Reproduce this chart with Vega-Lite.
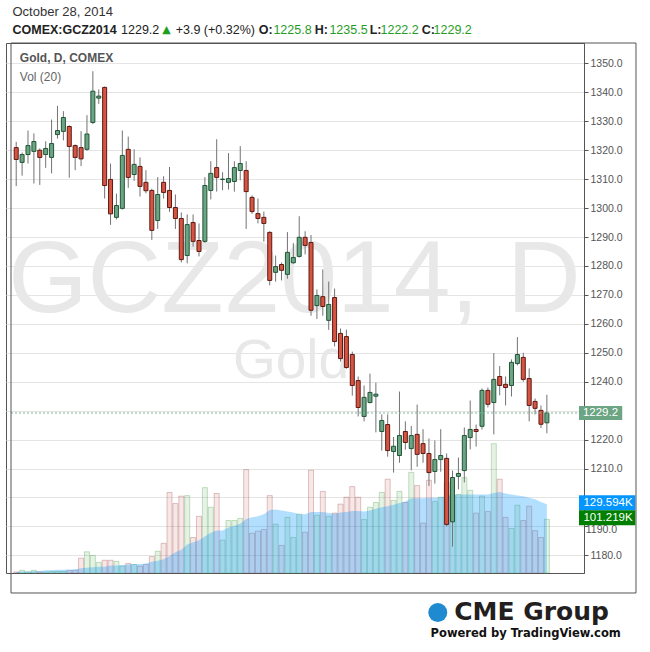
{
"$schema": "https://vega.github.io/schema/vega-lite/v6.json",
"width": 578, "height": 530,
"autosize": {"type": "none"},
"padding": {"left": 6, "top": 43, "right": 66, "bottom": 79},
"background": "white",
"config": {"view": {"stroke": "#555", "strokeWidth": 1}, "font": "Liberation Sans"},
"datasets": {
"ohlc": [
{"i":0,"d":"2014-06-20","o":1320.9,"h":1322.9,"l":1307.6,"c":1316.8,"v":2,"ma":2},
{"i":1,"d":"2014-06-23","o":1315.8,"h":1319.2,"l":1311.2,"c":1318.5,"v":5,"ma":3},
{"i":2,"d":"2014-06-24","o":1318.5,"h":1326.8,"l":1315.4,"c":1321.6,"v":2,"ma":3},
{"i":3,"d":"2014-06-25","o":1319.6,"h":1325.8,"l":1308.5,"c":1323.0,"v":5,"ma":4},
{"i":4,"d":"2014-06-26","o":1320.0,"h":1320.6,"l":1308.0,"c":1317.5,"v":2,"ma":4},
{"i":5,"d":"2014-06-27","o":1318.5,"h":1323.1,"l":1313.9,"c":1320.6,"v":2,"ma":5},
{"i":6,"d":"2014-06-30","o":1317.5,"h":1330.6,"l":1312.0,"c":1322.3,"v":3,"ma":5},
{"i":7,"d":"2014-07-01","o":1325.4,"h":1335.3,"l":1324.0,"c":1326.8,"v":3,"ma":6},
{"i":8,"d":"2014-07-02","o":1326.5,"h":1333.5,"l":1323.4,"c":1331.3,"v":3,"ma":6},
{"i":9,"d":"2014-07-03","o":1328.2,"h":1328.6,"l":1310.5,"c":1321.3,"v":5,"ma":6},
{"i":10,"d":"2014-07-07","o":1321.6,"h":1322.0,"l":1313.1,"c":1317.5,"v":5,"ma":7},
{"i":11,"d":"2014-07-08","o":1320.9,"h":1326.6,"l":1314.5,"c":1317.0,"v":28,"ma":9},
{"i":12,"d":"2014-07-09","o":1320.3,"h":1332.1,"l":1319.8,"c":1325.6,"v":40,"ma":10},
{"i":13,"d":"2014-07-10","o":1329.6,"h":1347.3,"l":1329.0,"c":1340.4,"v":33,"ma":11},
{"i":14,"d":"2014-07-11","o":1338.0,"h":1341.0,"l":1336.0,"c":1338.7,"v":20,"ma":12},
{"i":15,"d":"2014-07-14","o":1341.7,"h":1342.0,"l":1303.3,"c":1307.8,"v":24,"ma":12},
{"i":16,"d":"2014-07-15","o":1309.9,"h":1315.4,"l":1294.2,"c":1298.0,"v":24,"ma":14},
{"i":17,"d":"2014-07-16","o":1296.8,"h":1305.0,"l":1296.1,"c":1300.9,"v":22,"ma":14},
{"i":18,"d":"2014-07-17","o":1299.9,"h":1326.8,"l":1299.5,"c":1318.2,"v":13,"ma":15},
{"i":19,"d":"2014-07-18","o":1320.3,"h":1324.7,"l":1307.0,"c":1310.6,"v":18,"ma":16},
{"i":20,"d":"2014-07-21","o":1311.6,"h":1320.3,"l":1309.4,"c":1315.1,"v":16,"ma":17},
{"i":21,"d":"2014-07-22","o":1314.4,"h":1317.5,"l":1304.0,"c":1307.5,"v":13,"ma":17},
{"i":22,"d":"2014-07-23","o":1308.9,"h":1313.1,"l":1305.1,"c":1306.0,"v":16,"ma":18},
{"i":23,"d":"2014-07-24","o":1306.1,"h":1306.7,"l":1289.0,"c":1292.3,"v":31,"ma":21},
{"i":24,"d":"2014-07-25","o":1295.7,"h":1310.7,"l":1292.8,"c":1304.7,"v":41,"ma":23},
{"i":25,"d":"2014-07-28","o":1308.9,"h":1311.0,"l":1303.3,"c":1305.4,"v":56,"ma":26},
{"i":26,"d":"2014-07-29","o":1306.1,"h":1314.2,"l":1298.7,"c":1300.2,"v":152,"ma":32},
{"i":27,"d":"2014-07-30","o":1300.2,"h":1304.7,"l":1292.8,"c":1296.4,"v":131,"ma":39},
{"i":28,"d":"2014-07-31","o":1296.4,"h":1298.5,"l":1281.2,"c":1282.2,"v":145,"ma":44},
{"i":29,"d":"2014-08-01","o":1283.6,"h":1297.8,"l":1280.9,"c":1294.3,"v":146,"ma":54},
{"i":30,"d":"2014-08-04","o":1295.0,"h":1297.8,"l":1286.7,"c":1288.5,"v":67,"ma":58},
{"i":31,"d":"2014-08-05","o":1288.8,"h":1294.7,"l":1283.3,"c":1285.0,"v":107,"ma":62},
{"i":32,"d":"2014-08-06","o":1288.5,"h":1310.7,"l":1288.0,"c":1307.8,"v":161,"ma":69},
{"i":33,"d":"2014-08-07","o":1306.1,"h":1316.2,"l":1303.0,"c":1312.0,"v":124,"ma":76},
{"i":34,"d":"2014-08-08","o":1314.0,"h":1323.8,"l":1305.7,"c":1310.6,"v":150,"ma":80},
{"i":35,"d":"2014-08-11","o":1309.9,"h":1312.4,"l":1306.2,"c":1310.0,"v":62,"ma":80},
{"i":36,"d":"2014-08-12","o":1308.9,"h":1319.0,"l":1306.4,"c":1310.2,"v":99,"ma":86},
{"i":37,"d":"2014-08-13","o":1309.2,"h":1316.2,"l":1305.7,"c":1314.0,"v":99,"ma":89},
{"i":38,"d":"2014-08-14","o":1313.0,"h":1321.4,"l":1309.6,"c":1315.4,"v":103,"ma":93},
{"i":39,"d":"2014-08-15","o":1313.0,"h":1316.2,"l":1292.8,"c":1305.7,"v":195,"ma":102},
{"i":40,"d":"2014-08-18","o":1303.7,"h":1304.4,"l":1298.0,"c":1298.8,"v":75,"ma":105},
{"i":41,"d":"2014-08-19","o":1298.1,"h":1303.3,"l":1294.7,"c":1296.4,"v":79,"ma":107},
{"i":42,"d":"2014-08-20","o":1296.8,"h":1298.8,"l":1288.4,"c":1294.7,"v":82,"ma":111},
{"i":43,"d":"2014-08-21","o":1291.6,"h":1292.0,"l":1273.3,"c":1275.0,"v":146,"ma":119},
{"i":44,"d":"2014-08-22","o":1277.8,"h":1283.6,"l":1274.6,"c":1279.8,"v":92,"ma":120},
{"i":45,"d":"2014-08-25","o":1280.5,"h":1281.2,"l":1275.0,"c":1278.5,"v":52,"ma":118},
{"i":46,"d":"2014-08-26","o":1277.1,"h":1291.7,"l":1275.6,"c":1284.7,"v":105,"ma":116},
{"i":47,"d":"2014-08-27","o":1281.1,"h":1287.9,"l":1280.8,"c":1282.9,"v":67,"ma":114},
{"i":48,"d":"2014-08-28","o":1283.3,"h":1297.2,"l":1282.9,"c":1289.9,"v":111,"ma":111},
{"i":49,"d":"2014-08-29","o":1289.9,"h":1292.0,"l":1284.0,"c":1287.1,"v":77,"ma":111},
{"i":50,"d":"2014-09-02","o":1288.1,"h":1290.7,"l":1262.8,"c":1264.7,"v":194,"ma":115},
{"i":51,"d":"2014-09-03","o":1266.3,"h":1271.9,"l":1261.7,"c":1269.8,"v":109,"ma":115},
{"i":52,"d":"2014-09-04","o":1269.4,"h":1278.8,"l":1262.8,"c":1266.0,"v":154,"ma":115},
{"i":53,"d":"2014-09-05","o":1261.2,"h":1274.6,"l":1257.9,"c":1266.7,"v":107,"ma":113},
{"i":54,"d":"2014-09-08","o":1269.1,"h":1272.2,"l":1252.2,"c":1253.9,"v":113,"ma":112},
{"i":55,"d":"2014-09-09","o":1256.7,"h":1258.4,"l":1247.0,"c":1248.0,"v":130,"ma":114},
{"i":56,"d":"2014-09-10","o":1255.6,"h":1258.0,"l":1244.5,"c":1244.9,"v":143,"ma":115},
{"i":57,"d":"2014-09-11","o":1249.4,"h":1250.4,"l":1235.2,"c":1238.7,"v":163,"ma":117},
{"i":58,"d":"2014-09-12","o":1240.4,"h":1241.8,"l":1228.0,"c":1231.1,"v":143,"ma":117},
{"i":59,"d":"2014-09-15","o":1228.0,"h":1238.7,"l":1226.3,"c":1234.6,"v":101,"ma":116},
{"i":60,"d":"2014-09-16","o":1232.8,"h":1242.8,"l":1232.5,"c":1236.3,"v":124,"ma":118},
{"i":61,"d":"2014-09-17","o":1235.0,"h":1239.7,"l":1222.5,"c":1235.7,"v":133,"ma":121},
{"i":62,"d":"2014-09-18","o":1222.8,"h":1228.7,"l":1216.2,"c":1226.6,"v":152,"ma":124},
{"i":63,"d":"2014-09-19","o":1225.2,"h":1228.7,"l":1214.1,"c":1216.2,"v":177,"ma":126},
{"i":64,"d":"2014-09-22","o":1215.9,"h":1220.9,"l":1208.6,"c":1217.7,"v":137,"ma":129},
{"i":65,"d":"2014-09-23","o":1214.5,"h":1236.6,"l":1212.0,"c":1221.4,"v":154,"ma":132},
{"i":66,"d":"2014-09-24","o":1222.8,"h":1226.3,"l":1216.5,"c":1219.0,"v":133,"ma":135},
{"i":67,"d":"2014-09-25","o":1216.9,"h":1224.7,"l":1209.4,"c":1221.4,"v":190,"ma":141},
{"i":68,"d":"2014-09-26","o":1221.8,"h":1232.1,"l":1210.6,"c":1214.9,"v":165,"ma":141},
{"i":69,"d":"2014-09-29","o":1218.6,"h":1223.6,"l":1212.0,"c":1215.2,"v":94,"ma":141},
{"i":70,"d":"2014-09-30","o":1215.2,"h":1220.4,"l":1204.0,"c":1208.6,"v":175,"ma":142},
{"i":71,"d":"2014-10-01","o":1209.0,"h":1219.7,"l":1204.8,"c":1213.1,"v":135,"ma":142},
{"i":72,"d":"2014-10-02","o":1213.1,"h":1223.6,"l":1208.9,"c":1214.5,"v":143,"ma":143},
{"i":73,"d":"2014-10-03","o":1213.5,"h":1215.2,"l":1190.0,"c":1190.7,"v":171,"ma":145},
{"i":74,"d":"2014-10-06","o":1191.6,"h":1209.3,"l":1183.0,"c":1206.9,"v":148,"ma":146},
{"i":75,"d":"2014-10-07","o":1207.3,"h":1213.8,"l":1202.8,"c":1208.3,"v":148,"ma":148},
{"i":76,"d":"2014-10-08","o":1209.3,"h":1224.2,"l":1205.2,"c":1221.4,"v":180,"ma":148},
{"i":77,"d":"2014-10-09","o":1220.7,"h":1233.5,"l":1216.6,"c":1223.5,"v":156,"ma":148},
{"i":78,"d":"2014-10-10","o":1223.5,"h":1225.2,"l":1217.6,"c":1222.8,"v":113,"ma":148},
{"i":79,"d":"2014-10-13","o":1224.6,"h":1237.7,"l":1223.5,"c":1237.0,"v":145,"ma":148},
{"i":80,"d":"2014-10-14","o":1237.0,"h":1238.0,"l":1231.1,"c":1232.2,"v":116,"ma":148},
{"i":81,"d":"2014-10-15","o":1232.8,"h":1249.9,"l":1221.8,"c":1240.8,"v":244,"ma":151},
{"i":82,"d":"2014-10-16","o":1241.8,"h":1245.4,"l":1235.3,"c":1238.7,"v":177,"ma":153},
{"i":83,"d":"2014-10-17","o":1239.1,"h":1241.8,"l":1231.8,"c":1238.0,"v":105,"ma":150},
{"i":84,"d":"2014-10-20","o":1238.7,"h":1247.7,"l":1234.9,"c":1246.7,"v":84,"ma":148},
{"i":85,"d":"2014-10-21","o":1246.3,"h":1255.4,"l":1245.6,"c":1249.4,"v":128,"ma":146},
{"i":86,"d":"2014-10-22","o":1248.4,"h":1250.0,"l":1240.0,"c":1240.8,"v":99,"ma":145},
{"i":87,"d":"2014-10-23","o":1241.1,"h":1244.6,"l":1226.3,"c":1231.8,"v":126,"ma":142},
{"i":88,"d":"2014-10-24","o":1233.2,"h":1234.2,"l":1228.7,"c":1230.8,"v":80,"ma":139},
{"i":89,"d":"2014-10-27","o":1230.1,"h":1231.8,"l":1224.0,"c":1225.3,"v":67,"ma":134},
{"i":90,"d":"2014-10-28","o":1225.8,"h":1235.5,"l":1222.2,"c":1229.2,"v":101.219,"ma":129.594}
],
"last": [{"price": 1229.2, "label": "1229.2"}],
"vlast": [{"vol": 129.594, "label": "129.594K", "kind": "ma"}, {"vol": 101.219, "label": "101.219K", "kind": "vol"}],
"one": [{"t": "a"}]
},
"layer": [
 {
  "data": {"name": "one"},
  "layer": [
   {"mark": {"type": "text", "text": "GCZ2014, D", "font": "Liberation Sans", "fontSize": 102, "color": "#e8e8e8", "align": "center", "baseline": "alphabetic"},
    "encoding": {"x": {"datum": 47.2, "type": "quantitative", "scale": {"domain": [-0.883, 95.45], "nice": false, "zero": false}, "axis": null}, "y": {"datum": 1264.1, "type": "quantitative"}}},
   {"mark": {"type": "text", "text": "Gold", "font": "Liberation Sans", "fontSize": 55, "color": "#e8e8e8", "align": "center", "baseline": "alphabetic"},
    "encoding": {"x": {"datum": 46.6, "type": "quantitative", "axis": null}, "y": {"datum": 1241.3, "type": "quantitative"}}}
  ],
  "encoding": {"y": {"type": "quantitative", "scale": {"domain": [1173.9, 1357.05], "nice": false, "zero": false}, "axis": null}}
 },
 {
  "data": {"name": "ohlc"},
  "layer": [
   {"mark": {"type": "bar", "size": 5, "strokeWidth": 1, "fillOpacity": 0.13, "strokeOpacity": 0.3, "orient": "vertical"},
    "encoding": {"x": {"field": "i", "type": "quantitative", "axis": null},
     "y": {"field": "v", "type": "quantitative", "scale": {"domain": [0, 1000], "nice": false}, "axis": null},
     "fill": {"condition": {"test": "datum.c >= datum.o", "value": "#3d9a3d"}, "value": "#c0504a"},
     "stroke": {"condition": {"test": "datum.c >= datum.o", "value": "#3d9a3d"}, "value": "#a04040"}}},
   {"mark": {"type": "area", "color": "#0496ff", "opacity": 0.3},
    "encoding": {"x": {"field": "i", "type": "quantitative", "axis": null},
     "y": {"field": "ma", "type": "quantitative", "scale": {"domain": [0, 1000], "nice": false}, "axis": null}}},
   {"data": {"name": "vlast"},
    "mark": {"type": "rect", "clip": false, "yOffset": -9, "y2Offset": 6},
    "encoding": {"x": {"datum": 95.45, "type": "quantitative", "axis": null}, "x2": {"datum": 105.0},
     "y": {"field": "vol", "type": "quantitative"}, "y2": {"field": "vol"},
     "color": {"condition": {"test": "datum.kind == 'ma'", "value": "#0496ff"}, "value": "#007f00"}}},
   {"data": {"name": "vlast"},
    "mark": {"type": "text", "clip": false, "align": "left", "baseline": "middle", "dy": -1.5, "fontSize": 11.5, "color": "white", "font": "Liberation Sans"},
    "encoding": {"x": {"datum": 96.2, "type": "quantitative", "axis": null}, "y": {"field": "vol", "type": "quantitative"}, "text": {"field": "label"}}}
  ]
 },
 {
  "data": {"name": "ohlc"},
  "encoding": {"y": {"type": "quantitative", "scale": {"domain": [1173.9, 1357.05], "nice": false, "zero": false},
   "axis": {"orient": "right", "values": [1180,1190,1200,1210,1220,1230,1240,1250,1260,1270,1280,1290,1300,1310,1320,1330,1340,1350], "labelExpr": "datum.value == 1230 || datum.value == 1200 || datum.value == 1190 ? '' : format(datum.value, '.1f')", "title": null, "grid": true, "gridColor": "#e4e4e4", "domainColor": "#555", "tickColor": "#555", "tickSize": 4, "labelFont": "Liberation Sans", "labelFontSize": 10.5, "labelColor": "#555", "labelPadding": 2}}},
  "layer": [
   {"mark": {"type": "rule", "color": "#737375", "strokeWidth": 1},
    "encoding": {"x": {"field": "i", "type": "quantitative", "scale": {"domain": [-0.883, 95.45], "nice": false, "zero": false},
      "axis": {"values": [7, 29, 50, 71, 94], "labelExpr": "datum.value == 7 ? 'Jul' : datum.value == 29 ? 'Aug' : datum.value == 50 ? 'Sep' : datum.value == 71 ? 'Oct' : 'Nov'", "title": null, "grid": true, "gridColor": "#e4e4e4", "domainColor": "#555", "tickColor": "#555", "tickSize": 4, "labelFont": "Liberation Sans", "labelFontWeight": "bold", "labelFontSize": 11, "labelColor": "#555", "labelPadding": 3, "labelOverlap": false, "labelBound": false}},
     "y": {"field": "l", "type": "quantitative"}, "y2": {"field": "h"}}},
   {"mark": {"type": "bar", "size": 4, "strokeWidth": 1, "orient": "vertical"},
    "encoding": {"x": {"field": "i", "type": "quantitative", "axis": null},
     "y": {"field": "o", "type": "quantitative"}, "y2": {"field": "c"},
     "fill": {"condition": {"test": "datum.c >= datum.o", "value": "#6ba583"}, "value": "#d75442"},
     "stroke": {"condition": {"test": "datum.c >= datum.o", "value": "#225437"}, "value": "#5b1a13"}}},
   {"data": {"name": "last"},
    "mark": {"type": "rule", "color": "#7fb596", "strokeDash": [2, 2], "strokeWidth": 1},
    "encoding": {"x": {"datum": -0.883, "type": "quantitative", "axis": null}, "x2": {"datum": 95.45}, "y": {"field": "price", "type": "quantitative"}}},
   {"data": {"name": "last"},
    "mark": {"type": "rect", "clip": false, "color": "#6ba583", "yOffset": -7, "y2Offset": 7},
    "encoding": {"x": {"datum": 95.45, "type": "quantitative", "axis": null}, "x2": {"datum": 102.78}, "y": {"field": "price", "type": "quantitative"}, "y2": {"field": "price"}}},
   {"data": {"name": "last"},
    "mark": {"type": "text", "clip": false, "align": "center", "baseline": "middle", "fontSize": 11.5, "color": "white", "font": "Liberation Sans"},
    "encoding": {"x": {"datum": 99.1, "type": "quantitative", "axis": null}, "y": {"field": "price", "type": "quantitative"}, "text": {"field": "label"}}},
   {"data": {"name": "one"},
    "mark": {"type": "text", "text": "1190.0", "clip": false, "align": "left", "baseline": "middle", "fontSize": 10.5, "color": "#555", "font": "Liberation Sans", "dy": 4},
    "encoding": {"x": {"datum": 96.6, "type": "quantitative", "axis": null}, "y": {"datum": 1190, "type": "quantitative"}}},
   {"data": {"name": "one"},
    "mark": {"type": "text", "text": "Gold, D, COMEX", "align": "left", "baseline": "middle", "fontSize": 12, "fontWeight": "bold", "color": "#555", "font": "Liberation Sans"},
    "encoding": {"x": {"datum": 0.617, "type": "quantitative", "axis": null}, "y": {"datum": 1351.87, "type": "quantitative"}}},
   {"data": {"name": "one"},
    "mark": {"type": "text", "text": "Vol (20)", "align": "left", "baseline": "middle", "fontSize": 12, "color": "#666", "font": "Liberation Sans"},
    "encoding": {"x": {"datum": 0.617, "type": "quantitative", "axis": null}, "y": {"datum": 1345.3, "type": "quantitative"}}},
   {"data": {"name": "one"},
    "mark": {"type": "rect", "clip": false, "fillOpacity": 0, "stroke": "#555", "strokeWidth": 1},
    "encoding": {"x": {"datum": -0.883, "type": "quantitative", "axis": null}, "x2": {"datum": 105.117}, "y": {"datum": 1357.05, "type": "quantitative"}, "y2": {"datum": 1166.99}}},
   {"data": {"name": "one"},
    "mark": {"type": "text", "text": "October 28, 2014", "clip": false, "align": "left", "baseline": "middle", "fontSize": 13, "color": "#333", "font": "Liberation Sans"},
    "encoding": {"x": {"datum": -0.633, "type": "quantitative", "axis": null}, "y": {"datum": 1367.76, "type": "quantitative"}}},
   {"data": {"name": "one"},
    "mark": {"type": "text", "text": "COMEX:GCZ2014", "clip": false, "align": "left", "baseline": "middle", "fontSize": 12.5, "fontWeight": "bold", "color": "#222", "font": "Liberation Sans"},
    "encoding": {"x": {"datum": -0.633, "type": "quantitative", "axis": null}, "y": {"datum": 1361.54, "type": "quantitative"}}},
   {"data": {"name": "one"},
    "mark": {"type": "text", "text": "1229.2", "clip": false, "align": "left", "baseline": "middle", "fontSize": 12.5, "color": "#222", "font": "Liberation Sans"},
    "encoding": {"x": {"datum": 17.78, "type": "quantitative", "axis": null}, "y": {"datum": 1361.54, "type": "quantitative"}}},
   {"data": {"name": "one"},
    "mark": {"type": "text", "text": "▲", "clip": false, "align": "left", "baseline": "middle", "fontSize": 11, "color": "#1f9e1f", "font": "DejaVu Sans"},
    "encoding": {"x": {"datum": 24.75, "type": "quantitative", "axis": null}, "y": {"datum": 1361.54, "type": "quantitative"}}},
   {"data": {"name": "one"},
    "mark": {"type": "text", "text": "+3.9 (+0.32%)", "clip": false, "align": "left", "baseline": "middle", "fontSize": 12.5, "color": "#222", "font": "Liberation Sans"},
    "encoding": {"x": {"datum": 27.05, "type": "quantitative", "axis": null}, "y": {"datum": 1361.54, "type": "quantitative"}}},
   {"data": {"name": "one"},
    "mark": {"type": "text", "text": "O:", "clip": false, "align": "left", "baseline": "middle", "fontSize": 12.5, "fontWeight": "bold", "color": "#222", "font": "Liberation Sans"},
    "encoding": {"x": {"datum": 41.12, "type": "quantitative", "axis": null}, "y": {"datum": 1361.54, "type": "quantitative"}}},
   {"data": {"name": "one"},
    "mark": {"type": "text", "text": "1225.8", "clip": false, "align": "left", "baseline": "middle", "fontSize": 12.5, "color": "#1f9e1f", "font": "Liberation Sans"},
    "encoding": {"x": {"datum": 43.62, "type": "quantitative", "axis": null}, "y": {"datum": 1361.54, "type": "quantitative"}}},
   {"data": {"name": "one"},
    "mark": {"type": "text", "text": "H:", "clip": false, "align": "left", "baseline": "middle", "fontSize": 12.5, "fontWeight": "bold", "color": "#222", "font": "Liberation Sans"},
    "encoding": {"x": {"datum": 50.62, "type": "quantitative", "axis": null}, "y": {"datum": 1361.54, "type": "quantitative"}}},
   {"data": {"name": "one"},
    "mark": {"type": "text", "text": "1235.5", "clip": false, "align": "left", "baseline": "middle", "fontSize": 12.5, "color": "#1f9e1f", "font": "Liberation Sans"},
    "encoding": {"x": {"datum": 53.12, "type": "quantitative", "axis": null}, "y": {"datum": 1361.54, "type": "quantitative"}}},
   {"data": {"name": "one"},
    "mark": {"type": "text", "text": "L:", "clip": false, "align": "left", "baseline": "middle", "fontSize": 12.5, "fontWeight": "bold", "color": "#222", "font": "Liberation Sans"},
    "encoding": {"x": {"datum": 59.95, "type": "quantitative", "axis": null}, "y": {"datum": 1361.54, "type": "quantitative"}}},
   {"data": {"name": "one"},
    "mark": {"type": "text", "text": "1222.2", "clip": false, "align": "left", "baseline": "middle", "fontSize": 12.5, "color": "#1f9e1f", "font": "Liberation Sans"},
    "encoding": {"x": {"datum": 61.78, "type": "quantitative", "axis": null}, "y": {"datum": 1361.54, "type": "quantitative"}}},
   {"data": {"name": "one"},
    "mark": {"type": "text", "text": "C:", "clip": false, "align": "left", "baseline": "middle", "fontSize": 12.5, "fontWeight": "bold", "color": "#222", "font": "Liberation Sans"},
    "encoding": {"x": {"datum": 68.78, "type": "quantitative", "axis": null}, "y": {"datum": 1361.54, "type": "quantitative"}}},
   {"data": {"name": "one"},
    "mark": {"type": "text", "text": "1229.2", "clip": false, "align": "left", "baseline": "middle", "fontSize": 12.5, "color": "#1f9e1f", "font": "Liberation Sans"},
    "encoding": {"x": {"datum": 70.78, "type": "quantitative", "axis": null}, "y": {"datum": 1361.54, "type": "quantitative"}}},
   {"data": {"name": "one"},
    "mark": {"type": "point", "shape": "circle", "filled": true, "clip": false, "size": 360, "color": "#1f8ad0", "opacity": 1},
    "encoding": {"x": {"datum": 71.5, "type": "quantitative", "axis": null}, "y": {"datum": 1160.25, "type": "quantitative"}}},
   {"data": {"name": "one"},
    "mark": {"type": "text", "text": "CME Group", "clip": false, "align": "left", "baseline": "alphabetic", "fontSize": 25, "fontWeight": "bold", "color": "#231f20", "font": "DejaVu Sans"},
    "encoding": {"x": {"datum": 74.28, "type": "quantitative", "axis": null}, "y": {"datum": 1157.66, "type": "quantitative"}}},
   {"data": {"name": "one"},
    "mark": {"type": "text", "text": "Powered by TradingView.com", "clip": false, "align": "left", "baseline": "alphabetic", "fontSize": 11.5, "fontWeight": "bold", "color": "#111", "font": "DejaVu Sans"},
    "encoding": {"x": {"datum": 70.28, "type": "quantitative", "axis": null}, "y": {"datum": 1151.78, "type": "quantitative"}}}
  ]
 }
],
"resolve": {"scale": {"y": "independent"}}
}
